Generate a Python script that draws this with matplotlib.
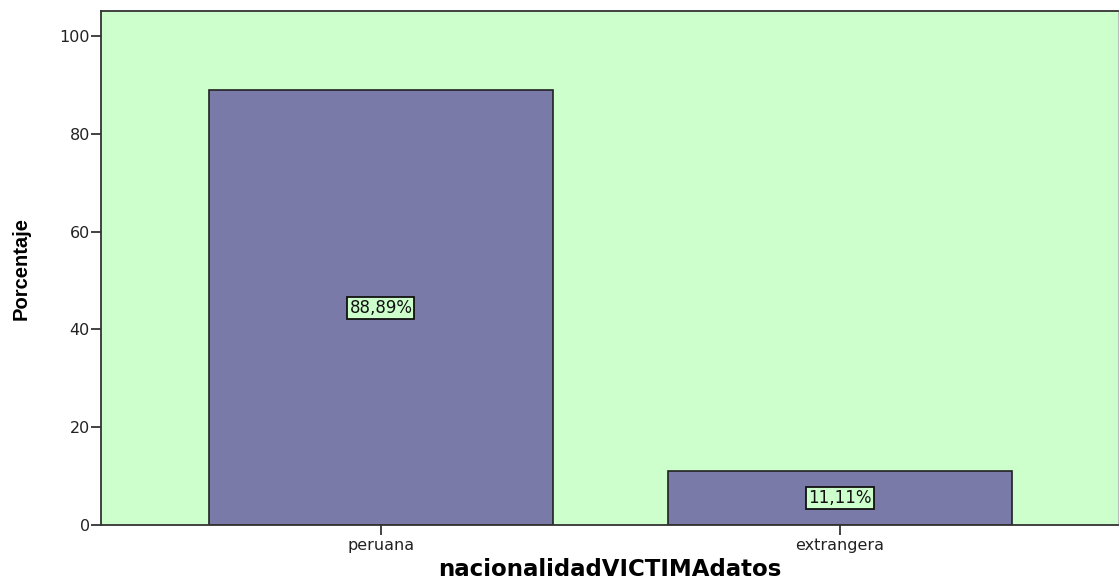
import matplotlib
matplotlib.use("Agg")
import matplotlib.pyplot as plt

categorias = ["peruana", "extrangera"]
porcentajes = [88.89, 11.11]
etiquetas = ["88,89%", "11,11%"]

plt.rcParams['font.family'] = ['DejaVu Sans']

fig = plt.figure(figsize=(11.2, 5.84), dpi=100)
ax = fig.add_axes([0.0902, 0.101, 0.908, 0.880])
ax.set_facecolor('#ccffcc')

x = list(range(len(categorias)))
ax.bar(x, porcentajes, width=0.75, color='#7a7aa8', edgecolor='#222222', linewidth=1.2, zorder=2)

# etiquetas de porcentaje en el centro de cada barra
for xi, v, txt in zip(x, porcentajes, etiquetas):
    ax.text(xi, v / 2, txt, ha='center', va='center', fontsize=12, color='#111111', zorder=3,
            bbox=dict(boxstyle='square,pad=0.12', facecolor='#ccffcc', edgecolor='#111111', linewidth=1.3))

ax.set_xlim(-0.61, 1.606)
ax.set_ylim(0, 105.1)
ax.set_yticks([0, 20, 40, 60, 80, 100])
ax.set_xticks(x)
ax.set_xticklabels(categorias)
ax.tick_params(axis='both', labelsize=11.5, length=7, width=1.2, color='#222222', labelcolor='#222222')
ax.tick_params(axis='x', pad=2)
ax.tick_params(axis='y', pad=1)

for s in ['left', 'bottom', 'top']:
    ax.spines[s].set_color('#333333')
    ax.spines[s].set_linewidth(1.3)
ax.spines['right'].set_color('#bbbbbb')

ax.set_ylabel('Porcentaje', fontsize=14.5, fontweight='bold',
              family=['Liberation Sans Narrow', 'Liberation Sans'], labelpad=21)
ax.set_xlabel('nacionalidadVICTIMAdatos', fontsize=16.5, fontweight='bold', labelpad=4)

fig.savefig('out.png', dpi=100)
